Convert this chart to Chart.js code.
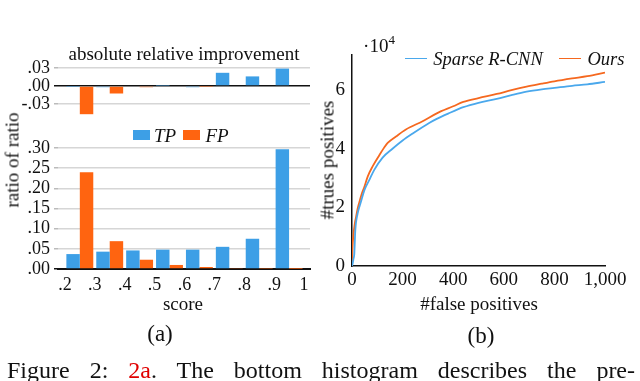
<!DOCTYPE html>
<html>
<head>
<meta charset="utf-8">
<script src="https://cdn.jsdelivr.net/npm/chart.js@4.4.1/dist/chart.umd.min.js"></script>
<style>
  body { margin: 0; background: #fff; }
  #page { position: relative; width: 640px; height: 381px; overflow: hidden;
          font-family: "Liberation Serif", "Times New Roman", serif; color: #111; }
  canvas { position: absolute; left: 0; top: 0; }
  .t { position: absolute; transform: translate(-50%, -50%); white-space: nowrap; line-height: 1; }
  .v { transform: translate(-50%, -50%) rotate(-90deg); }
  .box { position: absolute; width: 17px; height: 10px; }
  .seg { position: absolute; width: 22px; height: 0; border-top: 1.8px solid; }
  #caption { position: absolute; left: 7px; top: 358px; width: 628px; font-size: 24px; line-height: 1;
             text-align: justify; text-align-last: justify; white-space: nowrap; }
</style>
</head>
<body>
<div id="page">
  <canvas id="improve" width="640" height="381"></canvas>
  <canvas id="ratio" width="640" height="381"></canvas>
  <canvas id="curve" width="640" height="381"></canvas>

  <div class="t" style="left:184px;top:53px;font-size:19px">absolute relative improvement</div>
  <div class="box" style="left:133px;top:130px;background:#3d9fe6"></div>
  <div class="t" style="left:165px;top:135px;font-size:19px;font-style:italic">TP</div>
  <div class="box" style="left:183px;top:130px;background:#ff6410"></div>
  <div class="t" style="left:217px;top:135px;font-size:19px;font-style:italic">FP</div>
  <div class="t v" style="left:12px;top:160px;font-size:19px">ratio of ratio</div>
  <div class="t" style="left:183px;top:303px;font-size:19px">score</div>
  <div class="t" style="left:160px;top:333px;font-size:23px">(a)</div>

  <div class="t" style="left:379px;top:44px;font-size:19px">·10<sup style="font-size:13px;vertical-align:8px">4</sup></div>
  <div class="seg" style="left:405px;top:58px;border-color:#4aa8ec"></div>
  <div class="t" style="left:488px;top:59px;font-size:18.5px;font-style:italic">Sparse R-CNN</div>
  <div class="seg" style="left:559px;top:58px;border-color:#f5681f"></div>
  <div class="t" style="left:606px;top:59px;font-size:18.5px;font-style:italic">Ours</div>
  <div class="t v" style="left:327px;top:160px;font-size:19px">#trues positives</div>
  <div class="t" style="left:479px;top:303px;font-size:19px">#false positives</div>
  <div class="t" style="left:481px;top:335px;font-size:23px">(b)</div>

  <div id="caption">Figure 2: <span style="color:#e00000">2a</span>. The bottom histogram describes the pre-</div>
</div>

<script>
// score bins (bin centres) and axis ticks
const bins = [0.25, 0.35, 0.45, 0.55, 0.65, 0.75, 0.85, 0.95];
const scoreTicks = [0.2, 0.3, 0.4, 0.5, 0.6, 0.7, 0.8, 0.9, 1.0];

// top: absolute relative improvement
const improveTP = [-0.0005, -0.002, 0.0, 0.0005, -0.002, 0.022, 0.016, 0.029];
const improveFP = [-0.047, -0.0125, -0.002, 0.0, -0.0005, 0.0, 0.0, 0.0];
const improveTicks = [-0.03, 0, 0.03];

// bottom: ratio of ratio
const ratioTP = [0.037, 0.043, 0.046, 0.048, 0.048, 0.055, 0.075, 0.297];
const ratioFP = [0.240, 0.069, 0.023, 0.010, 0.005, 0.0025, 0.0008, 0.0002];
const ratioTicks = [0, 0.05, 0.10, 0.15, 0.20, 0.25, 0.30];

// right: #true positives vs #false positives
const fpSparse = [0, 3, 6, 9, 13, 22, 35, 49, 68, 88, 121, 160, 200, 240, 305, 335, 380, 440, 500, 572, 630, 690, 750, 800, 870, 930, 1000];
const tpSparse = [0, 1000, 2500, 4000, 12100, 17800, 21800, 25900, 29300, 32800, 37000, 40000, 42800, 45200, 48800, 50200, 52000, 54200, 55700, 57000, 58300, 59500, 60300, 60800, 61500, 62000, 62800];
const fpOurs = [0, 2, 5, 8, 12, 16, 22, 29, 38, 49, 62, 81, 108, 128, 141, 174, 213, 279, 335, 400, 440, 500, 572, 630, 690, 750, 800, 870, 930, 1000];
const tpOurs = [0, 6000, 10000, 12500, 15000, 16700, 19500, 21800, 24500, 27000, 30500, 33900, 37800, 40500, 42000, 44200, 46600, 49400, 52100, 54500, 56000, 57300, 58700, 60000, 61200, 62200, 63000, 64000, 64800, 66000];
const fpTicks = [0, 200, 400, 600, 800, 1000];
const tpTicks = [0, 20000, 40000, 60000];

const BLUE = '#3d9fe6';
const ORANGE = '#ff6410';
const GRID = '#d6d6d6';
const FONT = 'Liberation Serif';

Chart.defaults.font.family = FONT;
Chart.defaults.color = '#111';

function ratioLabel(v) {
  const s = Math.abs(v).toFixed(2).replace(/^0/, '');
  return (v < 0 ? '-' : '') + s;
}
function scoreLabel(v) {
  return v >= 1 ? '1' : v.toFixed(1).replace(/^0/, '');
}
function points(xs, ys) {
  return xs.map((x, i) => ({ x: x, y: ys[i] }));
}

function barChart(id, tp, fp, yMin, yMax, yTicks, padding, showX) {
  return new Chart(document.getElementById(id), {
    type: 'bar',
    data: {
      datasets: [
        { label: 'TP', data: points(bins, tp), backgroundColor: BLUE, borderWidth: 0,
          categoryPercentage: 0.9, barPercentage: 1.0 },
        { label: 'FP', data: points(bins, fp), backgroundColor: ORANGE, borderWidth: 0,
          categoryPercentage: 0.9, barPercentage: 1.0 }
      ]
    },
    options: {
      responsive: false,
      animation: false,
      devicePixelRatio: 1,
      layout: { padding: padding },
      plugins: { legend: { display: false }, tooltip: { enabled: false } },
      scales: {
        x: {
          type: 'linear',
          display: showX,
          offset: false,
          min: 0.177,
          max: 1.02,
          afterBuildTicks: s => { s.ticks = scoreTicks.map(v => ({ value: v })); },
          afterFit: s => { s.height = showX ? 30 : 0; },
          ticks: { callback: scoreLabel, font: { size: 18 }, padding: 5, maxRotation: 0, autoSkip: false },
          grid: { display: false, drawTicks: false, offset: false },
          border: { display: true, color: '#111', width: 2 }
        },
        y: {
          min: yMin,
          max: yMax,
          afterBuildTicks: s => { s.ticks = yTicks.map(v => ({ value: v })); },
          afterFit: s => { s.width = 40; },
          ticks: { callback: ratioLabel, font: { size: 18 }, padding: 4, autoSkip: false },
          grid: {
            color: c => (c.tick && c.tick.value === 0 ? '#111' : GRID),
            tickColor: c => (c.tick && c.tick.value === 0 ? '#111' : '#bbb'),
            lineWidth: 1.5,
            tickLength: 4
          },
          border: { display: false }
        }
      }
    }
  });
}

barChart('improve', improveTP, improveFP, -0.05, 0.035, improveTicks,
  { left: 18, right: 330, top: 65, bottom: 265 }, false);
barChart('ratio', ratioTP, ratioFP, 0, 0.30, ratioTicks,
  { left: 18, right: 330, top: 148, bottom: 82 }, true);

new Chart(document.getElementById('curve'), {
  type: 'line',
  data: {
    datasets: [
      { label: 'Sparse R-CNN', data: points(fpSparse, tpSparse), borderColor: '#4aa8ec',
        borderWidth: 1.8, pointRadius: 0, cubicInterpolationMode: 'monotone', fill: false },
      { label: 'Ours', data: points(fpOurs, tpOurs), borderColor: '#f5681f',
        borderWidth: 1.8, pointRadius: 0, cubicInterpolationMode: 'monotone', fill: false }
    ]
  },
  options: {
    responsive: false,
    animation: false,
    devicePixelRatio: 1,
    layout: { padding: { left: 312, right: 35, top: 55, bottom: 85 } },
    plugins: { legend: { display: false }, tooltip: { enabled: false } },
    scales: {
      x: {
        type: 'linear',
        min: 0,
        max: 1000,
        afterBuildTicks: s => { s.ticks = fpTicks.map(v => ({ value: v })); },
        afterFit: s => { s.height = 30; },
        ticks: { callback: v => v.toLocaleString('en-US'), font: { size: 19 }, padding: 3, maxRotation: 0, autoSkip: false },
        grid: { display: false, drawTicks: false },
        border: { display: true, color: '#111', width: 1.5 }
      },
      y: {
        min: 0,
        max: 72000,
        afterBuildTicks: s => { s.ticks = tpTicks.map(v => ({ value: v })); },
        afterFit: s => { s.width = 40; },
        ticks: { callback: v => String(v / 10000), font: { size: 19 }, padding: 7, autoSkip: false },
        grid: { display: false, drawTicks: false },
        border: { display: true, color: '#111', width: 1.5 }
      }
    }
  }
});
</script>
</body>
</html>
